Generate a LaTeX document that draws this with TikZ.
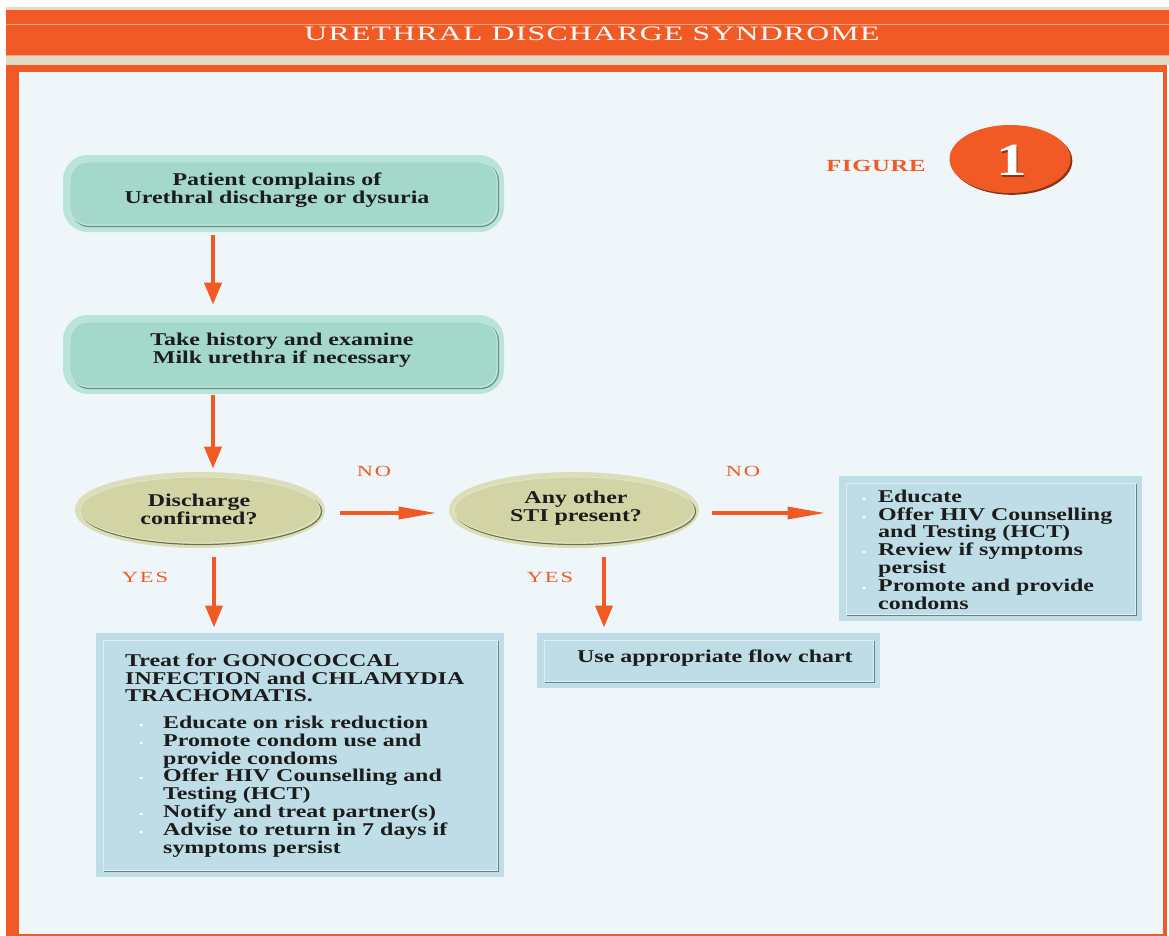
\documentclass[tikz,border=0pt]{standalone}
\usepackage{fontspec}
\setmainfont{Liberation Serif}
\newfontfamily\flowfont{Liberation Serif}[FakeStretch=1.33]
\newfontfamily\titlefont{Liberation Serif}[FakeStretch=1.55,LetterSpace=6]
\newfontfamily\tagfont{Liberation Serif}[FakeStretch=1.45,LetterSpace=12]
\newfontfamily\figfont{Liberation Serif}[FakeStretch=1.45,LetterSpace=4]
\usetikzlibrary{arrows.meta,shapes.geometric}

\definecolor{brand}{HTML}{F15A24}
\definecolor{branddark}{HTML}{8A3414}
\definecolor{sand}{HTML}{E2DAC5}
\definecolor{panel}{HTML}{EEF6F9}
\definecolor{tealfill}{HTML}{A3D8CA}
\definecolor{tealglow}{HTML}{B9E4D9}
\definecolor{tealedge}{HTML}{C4EAE0}
\definecolor{tealshade}{HTML}{6A8C85}
\definecolor{khaki}{HTML}{D3D4A6}
\definecolor{khakiglow}{HTML}{DCDDB9}
\definecolor{khakiedge}{HTML}{E4E5C8}
\definecolor{khakishade}{HTML}{6E6F52}
\definecolor{bluefill}{HTML}{BEDDE7}
\definecolor{blueedge}{HTML}{DCEDF3}
\definecolor{blueshade}{HTML}{6D7F86}
\definecolor{ink}{HTML}{1C1C1C}

% body text, bullet marker and first-row height
\newcommand{\flowtext}{\flowfont\bfseries\fontsize{18}{17.8}\selectfont}
\newcommand{\tallrow}{\rule{0pt}{12.6pt}}
\newcommand{\itm}[1]{\makebox[#1][l]{\textcolor{white}{\fontsize{9}{9}\selectfont\textbullet}}}

\tikzset{
  tealbox/.style={rectangle, rounded corners=18pt, inner sep=0pt,
    fill=tealfill, draw=tealedge, line width=0.8pt,
    preaction={draw=tealglow, line width=14pt},
    preaction={draw=tealshade, line width=1.2pt,
      transform canvas={shift={(1.5pt,-1.5pt)}}}},
  khakinode/.style={ellipse, inner sep=0pt,
    fill=khaki, draw=khakiedge, line width=0.8pt,
    preaction={draw=khakiglow, line width=10pt},
    preaction={draw=khakishade, line width=1.2pt,
      transform canvas={shift={(1.5pt,-1.5pt)}}}},
  bluebox/.style={rectangle, inner sep=0pt,
    fill=bluefill, draw=blueedge, line width=1pt,
    preaction={draw=bluefill, line width=14pt},
    preaction={draw=blueshade, line width=1.4pt,
      transform canvas={shift={(1.5pt,-1.5pt)}}}},
  words/.style={inner sep=0pt, text=ink, font=\flowtext},
  tag/.style={inner sep=0pt, anchor=base, text=brand,
    font=\tagfont\fontsize{15.5}{15.5}\selectfont},
  arrV/.style={draw=brand, line width=4pt,
    -{Triangle[length=22pt,width=17pt]}},
  arrH/.style={draw=brand, line width=3.5pt,
    -{Triangle[length=38pt,width=12pt]}}
}

\begin{document}
\begin{tikzpicture}[x=1pt,y=-1pt]
\useasboundingbox (0,0) rectangle (1169,936);
\fill[white] (0,0) rectangle (1169,936);

% title band and frame
\fill[sand] (6,7) rectangle (1169,10);
\fill[brand] (6,10) rectangle (1169,56);
\draw[brand!55!white, line width=0.6pt] (6,24) -- (1169,24);
\draw[brand!55!white, line width=0.6pt] (6,55.5) -- (1169,55.5);
\fill[sand] (6,56) rectangle (1169,65);
\fill[brand] (6,65) rectangle (1167,936);
\fill[panel] (19,72) rectangle (1163,934);

\node[inner sep=0pt, anchor=base, text=white,
  font=\titlefont\fontsize{20.5}{20.5}\selectfont] (title) at (592,41)
  {URETHRAL DISCHARGE SYNDROME};

% figure badge
\node[inner sep=0pt, anchor=base, text=brand,
  font=\figfont\bfseries\fontsize{17}{17}\selectfont] (figlabel) at (876,172) {FIGURE};
\node[ellipse, fill=brand, minimum width=121pt, minimum height=68pt, inner sep=0pt,
  preaction={fill=branddark, transform canvas={shift={(1.8pt,-1.8pt)}}}]
  (badge) at (1010,159) {};
\node[inner sep=0pt, anchor=base, text=branddark,
  font=\flowfont\bfseries\fontsize{46}{46}\selectfont] (oneshade) at (1013.2,177.2) {1};
\node[inner sep=0pt, anchor=base, text=white,
  font=\flowfont\bfseries\fontsize{46}{46}\selectfont] (one) at (1012,176) {1};

% process boxes
\node[tealbox, minimum width=427pt, minimum height=63pt] (p1) at (283.5,193.5) {};
\node[words, anchor=north, align=center] (p1txt) at (277,172.4)
  {\tallrow Patient complains of\\ Urethral discharge or dysuria};

\node[tealbox, minimum width=427pt, minimum height=65pt] (p2) at (283.5,354.5) {};
\node[words, anchor=north, align=center] (p2txt) at (282,332.4)
  {\tallrow Take history and examine\\ Milk urethra if necessary};

% decisions
\node[khakinode, minimum width=240pt, minimum height=66pt] (d1) at (200,510) {};
\node[words, anchor=north, align=center] (d1txt) at (199,494.1)
  {\tallrow Discharge\\ confirmed?};

\node[khakinode, minimum width=240pt, minimum height=66pt] (d2) at (574,510) {};
\node[words, anchor=north, align=center] (d2txt) at (576,490.7)
  {\tallrow Any other\\ STI present?};

% outcome boxes
\node[bluebox, minimum width=394pt, minimum height=230pt] (t1) at (300,755) {};
\node[words, anchor=north west, align=left] (t1head) at (125,653.4)
  {\tallrow Treat for GONOCOCCAL\\ INFECTION and CHLAMYDIA\\ TRACHOMATIS.};
\node[words, anchor=north west, align=left] (t1list) at (139,715.7)
  {\tallrow\itm{24pt}Educate on risk reduction\\
   \itm{24pt}Promote condom use and\\
   \hspace*{24pt}provide condoms\\
   \itm{24pt}Offer HIV Counselling and\\
   \hspace*{24pt}Testing (HCT)\\
   \itm{24pt}Notify and treat partner(s)\\
   \itm{24pt}Advise to return in 7 days if\\
   \hspace*{24pt}symptoms persist};

\node[bluebox, minimum width=329pt, minimum height=41pt] (t2) at (708.5,660.5) {};
\node[words, anchor=base west] (t2txt) at (577,662) {Use appropriate flow chart};

\node[bluebox, minimum width=289pt, minimum height=131pt] (t3) at (990.5,548.5) {};
\node[words, anchor=north west, align=left] (t3list) at (862,489.4)
  {\tallrow\itm{16pt}Educate\\
   \itm{16pt}Offer HIV Counselling\\
   \hspace*{16pt}and Testing (HCT)\\
   \itm{16pt}Review if symptoms\\
   \hspace*{16pt}persist\\
   \itm{16pt}Promote and provide\\
   \hspace*{16pt}condoms};

% connectors
\coordinate (colA) at (213,0);
\coordinate (colB) at (214,0);
\coordinate (colC) at (604,0);
\draw[arrV, shorten <=10pt, shorten >=17pt] (p1.south -| colA) -- (p2.north -| colA);
\draw[arrV, shorten <=8pt, shorten >=8pt] (p2.south -| colA) -- (d1.north -| colA);
\draw[arrV, shorten <=14pt, shorten >=12pt] (d1.south -| colB) -- (t1.north -| colB);
\draw[arrV, shorten <=14pt, shorten >=12pt] (d2.south -| colC) -- (t2.north -| colC);
\draw[arrH, shorten <=20pt, shorten >=17pt] ([yshift=-3pt]d1.east) -- ([yshift=-3pt]d2.west);
\draw[arrH, shorten <=18pt, shorten >=20pt] ([yshift=-3pt]d2.east) -- ([yshift=-3pt]d2.east -| t3.west);

% branch labels
\node[tag] (no1) at (374,476) {NO};
\node[tag] (no2) at (743,476) {NO};
\node[tag] (yes1) at (145,582) {YES};
\node[tag] (yes2) at (550,582) {YES};
\end{tikzpicture}
\end{document}
